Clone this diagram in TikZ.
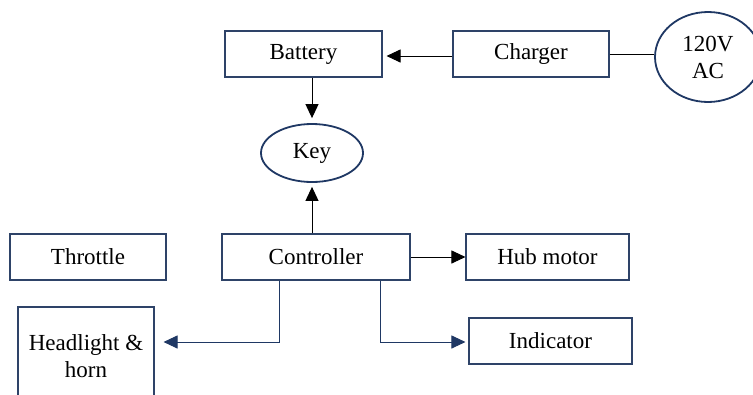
\documentclass[tikz,border=0pt]{standalone}
\usepackage{fontspec}
\setmainfont{Liberation Serif}
\usetikzlibrary{arrows.meta,shapes.geometric}
\definecolor{navy}{HTML}{1F3864}
\definecolor{boxline}{HTML}{2E4368}
\begin{document}
\begin{tikzpicture}[x=1pt,y=-1pt,
  every node/.style={font=\fontsize{23}{27}\selectfont, inner sep=0pt},
  blk/.style={draw=boxline, line width=1.1pt, rectangle, minimum height=46pt},
  oval/.style={draw=navy, line width=1.8pt, ellipse},
  blackarrow/.style={draw=black, line width=1pt, -{Triangle[length=14pt,width=13pt]}},
  navyarrow/.style={draw=navy, line width=1pt, -{Triangle[length=14pt,width=13pt]}},
  plainline/.style={draw=black, line width=1pt}]
\useasboundingbox (0,0) rectangle (753,394);
\clip (0,0) rectangle (753,394);
\fill[white] (0,0) rectangle (753,394);

\node[blk, minimum width=157pt] (battery) at (303.5,54) {Battery};
\node[blk, minimum width=156pt] (charger) at (531,54) {Charger};
\node[oval, minimum width=106pt, minimum height=90pt, align=center] (ac) at (708,57) {120V\\AC};
\node[oval, minimum width=102pt, minimum height=58pt] (key) at (312,153) {Key};
\node[blk, minimum width=188pt] (controller) at (316,257) {Controller};
\node[blk, minimum width=156pt] (throttle) at (88,257) {Throttle};
\node[blk, minimum width=163pt] (hub) at (547.5,257) {Hub motor};
\node[blk, minimum width=163pt] (indicator) at (550.5,341) {Indicator};
\node[blk, minimum width=136pt, minimum height=98pt, align=center] (headlight) at (86,356) {Headlight \&\\horn};

\coordinate (lb) at (279,342);
\coordinate (rb) at (380,342);

\draw[blackarrow] ([yshift=-2pt]charger.west) -- ([xshift=4pt,yshift=-2pt]battery.east);
\draw[plainline] (charger.east) -- (ac.west |- charger.east);
\draw[blackarrow] (battery.south -| key.north) -- ([yshift=5pt]key.north);
\draw[blackarrow] (controller.north -| key.south) -- ([yshift=-4pt]key.south);
\draw[blackarrow] (controller.east) -- (hub.west);
\draw[navyarrow] (controller.south -| lb) |- ([xshift=9pt]headlight.east |- lb);
\draw[navyarrow] (controller.south -| rb) |- ([xshift=-3pt]indicator.west |- rb);
\end{tikzpicture}
\end{document}
